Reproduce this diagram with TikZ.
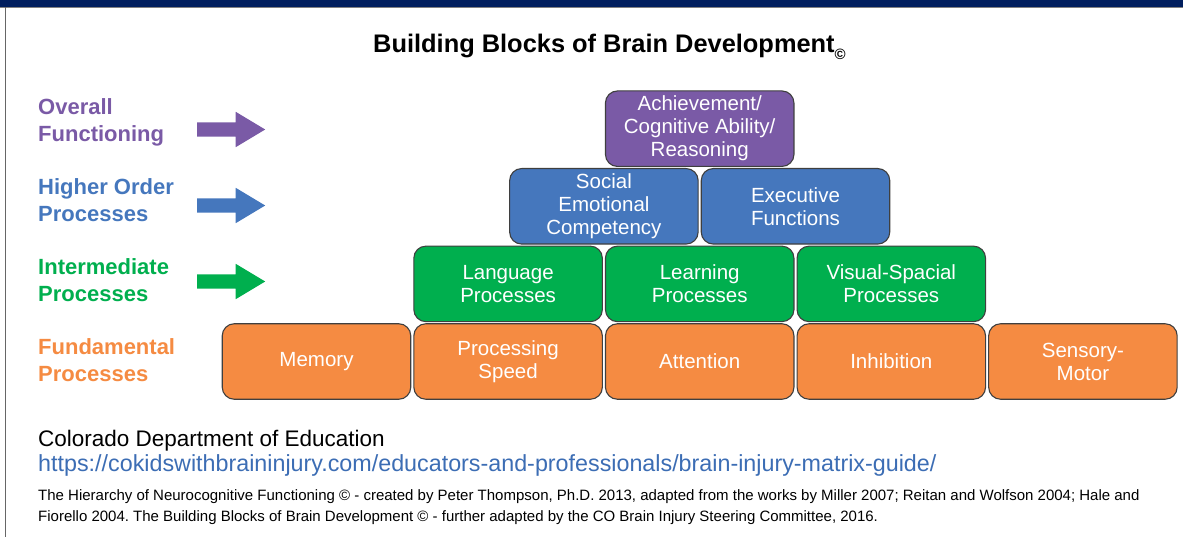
\documentclass[tikz,border=0pt]{standalone}
\usepackage{fontspec}
\setmainfont{Liberation Sans}
\usetikzlibrary{calc,positioning,shapes.arrows}
\frenchspacing

\definecolor{bbnavy}{HTML}{001E5E}
\definecolor{bbedge}{HTML}{3F3F3F}
\definecolor{bborange}{HTML}{F58B42}
\definecolor{bbgreen}{HTML}{00AF4E}
\definecolor{bbblue}{HTML}{4577BD}
\definecolor{bbpurple}{HTML}{7A5AA6}
\definecolor{bburl}{HTML}{3C6DB4}

\begin{document}
\begin{tikzpicture}[
                x=1pt,y=-1pt,
                node distance=1pt and 2pt,
                block/.style={draw=bbedge,line width=1.1pt,rounded corners=12pt,
                    minimum width=188.5pt,minimum height=75.5pt,inner sep=2pt,
                    align=center,text=white,font=\fontsize{20.5}{23}\selectfont},
                level/.style={anchor=north west,inner sep=0pt,align=left,
                    font=\fontsize{22}{27}\selectfont\bfseries},
                levelarrow/.style={single arrow,inner sep=7pt,single arrow head extend=10.5pt,
                    single arrow tip angle=62,minimum height=68pt,anchor=west}
            ]
                \useasboundingbox (0,0) rectangle (1183,537);
                % frame
                \fill[bbnavy] (0,0) rectangle (1183,7);
                \draw[gray,line width=1pt] (0,7.5) -- (1183,7.5);
                \draw[gray!80!black,line width=1.2pt] (5.5,7.5) -- (5.5,537);

                \node[anchor=base west,inner sep=0pt,font=\fontsize{25.4}{30}\selectfont\bfseries] (title) at (373,53)
                    {Building Blocks of Brain Development\raisebox{-7pt}{\fontsize{15}{15}\selectfont\bfseries ©}};

                % levels
                \node[level,text=bbpurple] (overall)      at (38,98)  {Overall\\Functioning};
                \node[level,text=bbblue]   (higher)       at (38,178) {Higher Order\\Processes};
                \node[level,text=bbgreen]  (intermediate) at (38,258) {Intermediate\\Processes};
                \node[level,text=bborange] (fundamental)  at (38,338) {Fundamental\\Processes};

                \node[levelarrow,fill=bbpurple] (arrowoverall)      at (197,129.5) {};
                \node[levelarrow,fill=bbblue]   (arrowhigher)       at (197,205.5) {};
                \node[levelarrow,fill=bbgreen]  (arrowintermediate) at (197,281.5) {};

                % fundamental processes
                \node[block,fill=bborange] (memory) at (316.5,361.5) {Memory};
                \node[block,fill=bborange,right=of memory]    (speed)      {Processing\\Speed};
                \node[block,fill=bborange,right=of speed]     (attention)  {Attention};
                \node[block,fill=bborange,right=of attention] (inhibition) {Inhibition};
                \node[block,fill=bborange,right=of inhibition](sensory)    {Sensory-\\Motor};

                % intermediate processes
                \node[block,fill=bbgreen,above=of speed]      (language) {Language\\Processes};
                \node[block,fill=bbgreen,above=of attention]  (learning) {Learning\\Processes};
                \node[block,fill=bbgreen,above=of inhibition] (visual)   {Visual-Spacial\\Processes};

                % higher order processes
                \node[block,fill=bbblue,anchor=south] (social) at ($(language.north)!0.5!(learning.north)+(0,-1)$)
                    {Social\\Emotional\\Competency};
                \node[block,fill=bbblue,right=of social] (executive) {Executive\\Functions};

                % overall functioning
                \node[block,fill=bbpurple,anchor=south] (achievement) at ($(social.north)!0.5!(executive.north)+(0,-1)$)
                    {Achievement/\\Cognitive Ability/\\Reasoning};

                % sources
                \node[anchor=base west,inner sep=0pt,font=\fontsize{22.5}{26}\selectfont] (cde) at (38,446)
                    {Colorado Department of Education};
                \node[anchor=base west,inner sep=0pt,text=bburl,font=\fontsize{23.3}{26}\selectfont] (url) at (38,471)
                    {https://cokidswithbraininjury.com/educators-and-professionals/brain-injury-matrix-guide/};
                \node[anchor=north west,inner sep=0pt,align=left,font=\fontsize{15}{21}\selectfont] (credits) at (38,489)
                    {The Hierarchy of Neurocognitive Functioning © - created by Peter Thompson, Ph.D. 2013, adapted from the works by Miller 2007; Reitan and Wolfson 2004; Hale and\\
                     Fiorello 2004. The Building Blocks of Brain Development © - further adapted by the CO Brain Injury Steering Committee, 2016.};
            \end{tikzpicture}
\end{document}
